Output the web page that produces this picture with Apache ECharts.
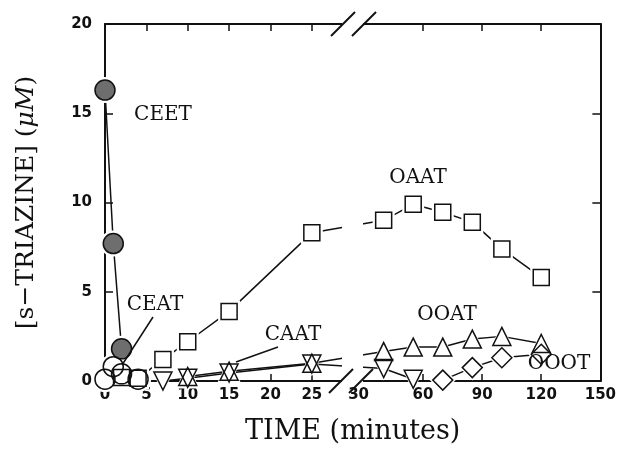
<!DOCTYPE html>
<html>
<head>
<meta charset="utf-8">
<script src="https://cdn.jsdelivr.net/npm/echarts@6/dist/echarts.min.js"></script>
<style>
html, body { margin: 0; padding: 0; background: #fff; }
#main { width: 619px; height: 462px; }
</style>
</head>
<body>
<div id="main"></div>
<script>
// time in minutes, concentration in uM
var ceetTime = [0, 1, 2];
var ceetConc = [16.3, 7.7, 1.8];
var ceatTime = [0, 1, 2, 4];
var ceatConc = [0.1, 0.8, 0.4, 0.1];
var oaatTime = [2, 4, 7, 10, 15, 25, 40, 55, 70, 85, 100, 120];
var oaatConc = [0.2, 0.15, 1.2, 2.2, 3.9, 8.3, 9.0, 9.9, 9.45, 8.9, 7.4, 5.8];
var caatTime = [7, 10, 15, 25, 40, 55];
var caatConc = [0.0, 0.15, 0.45, 0.95, 0.7, 0.1];
var ooatTime = [10, 15, 25, 40, 55, 70, 85, 100, 120];
var ooatConc = [0.25, 0.55, 1.0, 1.65, 1.9, 1.9, 2.35, 2.5, 2.1];
var oootTime = [70, 85, 100, 120];
var oootConc = [0.05, 0.75, 1.3, 1.5];

var xTickTimes = [0, 5, 10, 15, 20, 25, 30, 60, 90, 120, 150];
var xTickLabels = ['0', '5', '10', '15', '20', '25', '30', '60', '90', '120', '150'];
var xMarkTimes = [5, 10, 15, 20, 25, 60, 90, 120];

// broken time axis: 0-30 min on the left, 30-150 min squeezed on the right
function toAxis(t) {
    return t <= 30 ? t : 31.3 + (t - 30) / 4.2;
}
function pts(ts, vs) {
    return ts.map(function (t, i) { return [toAxis(t), vs[i]]; });
}

var labelPos = xTickTimes.map(function (t) { return t === 30 ? 30.65 : toAxis(t); });
var markPos = xMarkTimes.map(toAxis);
var xMax = toAxis(150);

var groups = [
    { data: pts(ceetTime, ceetConc), symbol: 'circle', size: 20, fill: '#6e6e6e' },
    { data: pts(ceatTime, ceatConc), symbol: 'circle', size: 20 },
    { data: pts(oaatTime, oaatConc), symbol: 'rect', size: 16 },
    { data: pts(caatTime, caatConc), symbol: 'triangle', size: 18, rotate: 180 },
    { data: pts(ooatTime, ooatConc), symbol: 'triangle', size: 18 },
    { data: pts(oootTime, oootConc), symbol: 'diamond', size: 20 }
];

var series = [];
groups.forEach(function (g) {
    series.push({
        type: 'line', data: g.data, symbol: 'none', z: 2, silent: true,
        lineStyle: { color: '#111', width: 1.5 }
    });
    series.push({
        type: 'scatter', data: g.data, symbol: g.symbol, symbolSize: g.size + 6,
        symbolRotate: g.rotate || 0, z: 3, silent: true,
        itemStyle: { color: '#fff', opacity: 1 }
    });
    series.push({
        type: 'scatter', data: g.data, symbol: g.symbol, symbolSize: g.size,
        symbolRotate: g.rotate || 0, z: 4, silent: true,
        itemStyle: { color: g.fill || 'rgba(0,0,0,0)', borderColor: '#111', borderWidth: 1.5, opacity: 1 }
    });
});

var axisLine = { show: true, onZero: false, lineStyle: { color: '#111', width: 2 } };
var tickFont = { color: '#111', fontFamily: 'DejaVu Sans', fontWeight: 'bold', fontSize: 15 };
var serif = '"DejaVu Serif"';

function xLabel(v) {
    for (var i = 0; i < labelPos.length; i++) {
        if (Math.abs(labelPos[i] - v) < 0.01) return xTickLabels[i];
    }
    return '';
}

function label(text, x, y) {
    return {
        type: 'text', x: x, y: y, z: 102,
        style: { text: text, font: '20px ' + serif, fill: '#111', align: 'center', verticalAlign: 'middle' }
    };
}
function stroke(x1, y1, x2, y2, w) {
    return {
        type: 'line', z: 101, shape: { x1: x1, y1: y1, x2: x2, y2: y2 },
        style: { stroke: '#111', lineWidth: w }
    };
}

var chart = echarts.init(document.getElementById('main'));
chart.setOption({
    animation: false,
    backgroundColor: '#fff',
    grid: { left: 105, right: 18, top: 24, bottom: 81 },
    xAxis: [
        {
            type: 'value', min: 0, max: xMax, position: 'bottom',
            axisLine: axisLine,
            axisTick: { inside: true, length: 7, customValues: markPos, lineStyle: { color: '#111', width: 1.5 } },
            axisLabel: Object.assign({ customValues: labelPos, formatter: xLabel, margin: 7 }, tickFont),
            splitLine: { show: false },
            name: 'TIME (minutes)', nameLocation: 'middle', nameGap: 37,
            nameTextStyle: { fontFamily: serif, fontSize: 27, color: '#111' }
        },
        {
            type: 'value', min: 0, max: xMax, position: 'top',
            axisLine: axisLine,
            axisTick: { inside: true, length: 7, customValues: markPos, lineStyle: { color: '#111', width: 1.5 } },
            axisLabel: { show: false },
            splitLine: { show: false }
        }
    ],
    yAxis: [
        {
            type: 'value', min: 0, max: 20, interval: 5, position: 'left',
            axisLine: axisLine,
            axisTick: { show: true, inside: true, length: 8, lineStyle: { color: '#111', width: 1.5 } },
            axisLabel: Object.assign({ margin: 13 }, tickFont),
            splitLine: { show: false },
            name: '[s\u2212TRIAZINE] ({it|\u03bcM})', nameLocation: 'middle', nameGap: 66, nameRotate: 90,
            nameTextStyle: {
                fontFamily: serif, fontSize: 25, color: '#111',
                rich: { it: { fontFamily: serif, fontSize: 25, fontStyle: 'italic', color: '#111' } }
            }
        },
        {
            type: 'value', min: 0, max: 20, interval: 5, position: 'right',
            axisLine: axisLine,
            axisTick: { show: true, inside: true, length: 8, lineStyle: { color: '#111', width: 1.5 } },
            axisLabel: { show: false },
            splitLine: { show: false }
        }
    ],
    graphic: [
        // gap of the axis break, then the // marks
        { type: 'rect', z: 100, shape: { x: 342, y: 10, width: 21, height: 376 }, style: { fill: '#fff' } },
        stroke(331, 36, 355, 12, 2),
        stroke(352, 36, 376, 12, 2),
        stroke(329, 393, 353, 369, 2),
        stroke(349, 393, 373, 369, 2),
        label('CEET', 163, 115),
        label('CEAT', 155, 305),
        label('CAAT', 293, 335),
        label('OAAT', 418, 178),
        label('OOAT', 447, 315),
        label('OOOT', 559, 364),
        stroke(153, 317, 122, 365, 1.5),
        stroke(278, 347, 236, 362, 1.5)
    ],
    series: series
});
</script>
</body>
</html>
